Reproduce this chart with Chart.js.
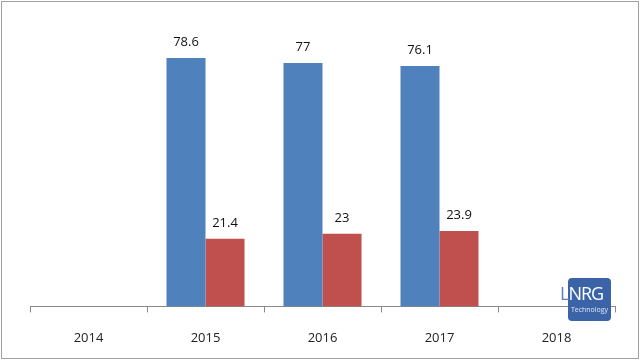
<!DOCTYPE html>
<html>
<head>
<meta charset="utf-8">
<script src="https://cdn.jsdelivr.net/npm/chart.js@4/dist/chart.umd.min.js"></script>
<style>
  html, body { margin: 0; padding: 0; background: #fff; }
  #wrap { position: relative; width: 640px; height: 360px; }
  #frame { position: absolute; left: 1px; top: 1px; width: 636px; height: 356px; border: 1px solid #a0a0a0; pointer-events: none; }
  #logo { position: absolute; left: 568px; top: 278px; width: 43px; height: 43px; background: #3b64a8; border-radius: 4px;
          font-family: "Open Sans", sans-serif; color: #fff; }
  #logo .big { position: absolute; left: -8px; top: 4px; white-space: nowrap; font-size: 18px; letter-spacing: -1px; line-height: 22px; }
  #logo .big span { color: #5a7fbf; }
  #logo .small { position: absolute; left: 0; top: 27px; width: 43px; text-align: center; font-size: 7px; line-height: 9px; color: #dfe6f3; }
</style>
</head>
<body>
<div id="wrap">
  <canvas id="chart" width="640" height="360"></canvas>
  <div id="frame"></div>
  <div id="logo"><div class="big"><span>L</span>NRG</div><div class="small">Technology</div></div>
</div>
<script>
// chart data
const years = ["2014", "2015", "2016", "2017", "2018"];
const blueValues = [null, 78.6, 77, 76.1, null];
const redValues = [null, 21.4, 23, 23.9, null];

// draw the value above each bar
const valueLabels = {
  id: "valueLabels",
  afterDatasetsDraw(chart) {
    const ctx = chart.ctx;
    ctx.save();
    ctx.font = "13px 'Open Sans', sans-serif";
    ctx.fillStyle = "#111";
    ctx.textAlign = "center";
    ctx.textBaseline = "bottom";
    chart.data.datasets.forEach((ds, i) => {
      chart.getDatasetMeta(i).data.forEach((bar, j) => {
        if (ds.data[j] == null) return;
        ctx.fillText(String(ds.data[j]), bar.x, bar.y - 9);
      });
    });
    ctx.restore();
  },
};

new Chart(document.getElementById("chart"), {
  type: "bar",
  data: {
    labels: years,
    datasets: [
      { data: blueValues, backgroundColor: "#4f81bd" },
      { data: redValues, backgroundColor: "#c0504d" },
    ],
  },
  options: {
    responsive: false,
    animation: false,
    layout: { padding: { left: 30, right: 25, top: 22, bottom: -4 } },
    datasets: { bar: { barPercentage: 1, categoryPercentage: 0.667 } },
    plugins: { legend: { display: false }, tooltip: { enabled: false } },
    scales: {
      y: { display: false, min: 0, max: 90 },
      x: {
        grid: { drawOnChartArea: false, offset: true, tickLength: 6, color: "#888" },
        border: { color: "#888" },
        ticks: { color: "#222", font: { family: "'Open Sans', sans-serif", size: 13 }, padding: 18 },
      },
    },
  },
  plugins: [valueLabels],
});
</script>
</body>
</html>
